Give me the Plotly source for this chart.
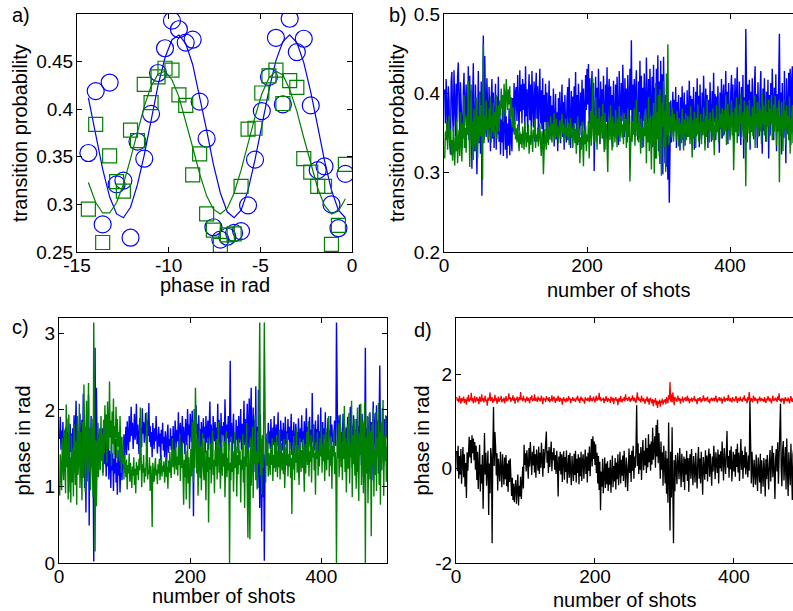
import plotly.graph_objects as go

# ---------------- panel a: fringe scan ----------------
phase_a = [-14.38, -13.98, -13.60, -13.22, -12.84, -12.47, -12.08, -11.70, -11.33, -10.96,
           -10.58, -10.20, -9.82, -9.44, -9.07, -8.69, -8.31, -7.93, -7.56, -7.18,
           -6.80, -6.43, -6.05, -5.67, -5.29, -4.92, -4.53, -4.15, -3.77, -3.40,
           -3.01, -2.63, -2.25, -1.87, -1.50, -1.12, -0.74, -0.36]
prob_blue = [0.354, 0.419, 0.279, 0.428, 0.321, 0.325, 0.265, 0.366, 0.348, 0.395,
             0.438, 0.464, 0.493, 0.484, 0.470, 0.473, 0.408, 0.369, 0.276, 0.263,
             0.266, 0.270, 0.272, 0.299, 0.347, 0.398, 0.434, 0.475, 0.405, 0.495,
             0.460, 0.474, 0.404, 0.336, 0.340, 0.300, 0.275, 0.332]
prob_green = [0.295, 0.384, 0.260, 0.351, 0.324, 0.314, 0.378, 0.367, 0.426, 0.407,
              0.434, 0.443, 0.441, 0.415, 0.404, 0.331, 0.353, 0.290, 0.273, 0.257,
              0.268, 0.269, 0.319, 0.379, 0.380, 0.417, 0.435, 0.441, 0.406, 0.430,
              0.423, 0.348, 0.334, 0.319, 0.319, 0.258, 0.278, 0.342]
fit_blue = [0.412, 0.373, 0.337, 0.308, 0.290, 0.286, 0.297, 0.321, 0.352, 0.388,
            0.425, 0.454, 0.473, 0.478, 0.469, 0.447, 0.414, 0.378, 0.342, 0.312,
            0.292, 0.286, 0.294, 0.315, 0.347, 0.382, 0.420, 0.451, 0.471, 0.478,
            0.470, 0.449, 0.418, 0.382, 0.346, 0.315, 0.294, 0.286]
fit_green = [0.323, 0.302, 0.291, 0.291, 0.302, 0.321, 0.348, 0.377, 0.403, 0.424,
             0.437, 0.440, 0.431, 0.413, 0.388, 0.360, 0.332, 0.309, 0.295, 0.290,
             0.296, 0.312, 0.336, 0.364, 0.392, 0.416, 0.433, 0.440, 0.436, 0.421,
             0.398, 0.370, 0.342, 0.317, 0.299, 0.290, 0.293, 0.306]

# ---------------- panels b-d: shot-to-shot records ----------------
shots = list(range(1, 501))

prob_shot_blue = [
    0.405, 0.362, 0.418, 0.381, 0.343, 0.409, 0.392, 0.338, 0.323, 0.415,
    0.427, 0.371, 0.352, 0.429, 0.398, 0.346, 0.412, 0.364, 0.421, 0.439,
    0.388, 0.351, 0.414, 0.372, 0.336, 0.331, 0.402, 0.426, 0.359, 0.378,
    0.411, 0.347, 0.367, 0.434, 0.341, 0.422, 0.356, 0.404, 0.305, 0.391,
    0.438, 0.349, 0.327, 0.411, 0.372, 0.298, 0.358, 0.428, 0.337, 0.402,
    0.324, 0.415, 0.271, 0.363, 0.473, 0.341, 0.447, 0.382, 0.345, 0.419,
    0.362, 0.338, 0.408, 0.351, 0.327, 0.394, 0.418, 0.343, 0.401, 0.331,
    0.374, 0.412, 0.329, 0.396, 0.348, 0.421, 0.339, 0.386, 0.323, 0.367,
    0.338, 0.392, 0.321, 0.357, 0.404, 0.329, 0.371, 0.318, 0.362, 0.334,
    0.381, 0.322, 0.368, 0.345, 0.327, 0.394, 0.352, 0.413, 0.361, 0.402,
    0.408, 0.365, 0.423, 0.384, 0.352, 0.429, 0.377, 0.411, 0.362, 0.418,
    0.379, 0.412, 0.356, 0.434, 0.371, 0.405, 0.348, 0.398, 0.424, 0.366,
    0.411, 0.358, 0.428, 0.382, 0.357, 0.415, 0.339, 0.403, 0.426, 0.368,
    0.409, 0.351, 0.389, 0.431, 0.362, 0.404, 0.355, 0.419, 0.336, 0.398,
    0.364, 0.412, 0.351, 0.401, 0.338, 0.386, 0.416, 0.347, 0.397, 0.341,
    0.385, 0.348, 0.406, 0.333, 0.381, 0.399, 0.342, 0.376, 0.327, 0.394,
    0.352, 0.402, 0.337, 0.384, 0.411, 0.345, 0.389, 0.329, 0.398, 0.356,
    0.338, 0.392, 0.408, 0.349, 0.419, 0.366, 0.331, 0.403, 0.354, 0.396,
    0.343, 0.409, 0.362, 0.427, 0.351, 0.398, 0.335, 0.412, 0.368, 0.347,
    0.401, 0.359, 0.417, 0.341, 0.406, 0.372, 0.348, 0.423, 0.379, 0.431,
    0.386, 0.437, 0.361, 0.419, 0.344, 0.402, 0.428, 0.357, 0.413, 0.302,
    0.392, 0.421, 0.348, 0.407, 0.359, 0.431, 0.375, 0.336, 0.415, 0.362,
    0.405, 0.343, 0.422, 0.378, 0.329, 0.411, 0.364, 0.433, 0.341, 0.401,
    0.418, 0.355, 0.409, 0.347, 0.398, 0.332, 0.416, 0.371, 0.344, 0.411,
    0.361, 0.421, 0.383, 0.335, 0.428, 0.372, 0.349, 0.413, 0.365, 0.436,
    0.382, 0.345, 0.419, 0.367, 0.406, 0.338, 0.423, 0.374, 0.356, 0.431,
    0.379, 0.467, 0.352, 0.411, 0.363, 0.418, 0.345, 0.405, 0.429, 0.362,
    0.341, 0.415, 0.376, 0.441, 0.358, 0.422, 0.331, 0.407, 0.365, 0.425,
    0.381, 0.349, 0.445, 0.372, 0.339, 0.418, 0.358, 0.431, 0.376, 0.344,
    0.421, 0.332, 0.436, 0.364, 0.407, 0.318, 0.431, 0.352, 0.448, 0.327,
    0.415, 0.311, 0.441, 0.342, 0.424, 0.298, 0.446, 0.329, 0.312, 0.398,
    0.307, 0.365, 0.291, 0.347, 0.262, 0.325, 0.391, 0.338, 0.372, 0.402,
    0.346, 0.392, 0.357, 0.408, 0.331, 0.389, 0.349, 0.398, 0.362, 0.328,
    0.395, 0.354, 0.409, 0.341, 0.382, 0.401, 0.334, 0.386, 0.352, 0.404,
    0.345, 0.391, 0.416, 0.356, 0.397, 0.338, 0.393, 0.359, 0.408, 0.329,
    0.387, 0.402, 0.346, 0.419, 0.358, 0.397, 0.332, 0.411, 0.363, 0.342,
    0.401, 0.355, 0.422, 0.368, 0.337, 0.406, 0.359, 0.398, 0.331, 0.392,
    0.351, 0.414, 0.371, 0.339, 0.403, 0.356, 0.426, 0.364, 0.399, 0.341,
    0.396, 0.352, 0.409, 0.368, 0.325, 0.401, 0.355, 0.418, 0.343, 0.393,
    0.411, 0.348, 0.397, 0.428, 0.357, 0.402, 0.336, 0.413, 0.366, 0.345,
    0.401, 0.423, 0.362, 0.411, 0.341, 0.397, 0.419, 0.353, 0.406, 0.433,
    0.368, 0.346, 0.415, 0.379, 0.335, 0.408, 0.359, 0.423, 0.318, 0.395,
    0.352, 0.481, 0.371, 0.338, 0.411, 0.362, 0.417, 0.329, 0.402, 0.351,
    0.419, 0.366, 0.342, 0.407, 0.434, 0.358, 0.399, 0.331, 0.414, 0.365,
    0.346, 0.403, 0.428, 0.362, 0.324, 0.406, 0.353, 0.419, 0.373, 0.339,
    0.402, 0.358, 0.417, 0.318, 0.398, 0.347, 0.413, 0.362, 0.431, 0.371,
    0.341, 0.407, 0.363, 0.424, 0.327, 0.399, 0.352, 0.416, 0.475, 0.359,
    0.401, 0.323, 0.413, 0.362, 0.344, 0.428, 0.371, 0.312, 0.419, 0.379,
    0.348, 0.426, 0.371, 0.431, 0.335, 0.412, 0.434, 0.357, 0.421, 0.368,
    0.409, 0.351, 0.424, 0.374, 0.358, 0.416, 0.345, 0.407, 0.363, 0.421,
]

prob_shot_green = [
    0.318, 0.352, 0.341, 0.364, 0.329, 0.347, 0.372, 0.336, 0.355, 0.322,
    0.341, 0.315, 0.358, 0.332, 0.309, 0.346, 0.327, 0.368, 0.312, 0.339,
    0.354, 0.321, 0.376, 0.338, 0.314, 0.362, 0.343, 0.398, 0.331, 0.357,
    0.325, 0.372, 0.348, 0.416, 0.336, 0.307, 0.359, 0.411, 0.334, 0.364,
    0.316, 0.381, 0.342, 0.327, 0.395, 0.353, 0.318, 0.371, 0.339, 0.402,
    0.346, 0.385, 0.331, 0.291, 0.462, 0.337, 0.372, 0.348, 0.391, 0.354,
    0.367, 0.342, 0.381, 0.356, 0.396, 0.338, 0.372, 0.351, 0.388, 0.345,
    0.376, 0.359, 0.398, 0.342, 0.367, 0.385, 0.352, 0.391, 0.372, 0.406,
    0.381, 0.398, 0.364, 0.412, 0.387, 0.371, 0.418, 0.393, 0.379, 0.405,
    0.386, 0.409, 0.368, 0.395, 0.374, 0.357, 0.382, 0.348, 0.366, 0.342,
    0.356, 0.338, 0.361, 0.343, 0.327, 0.352, 0.336, 0.349, 0.331, 0.358,
    0.342, 0.329, 0.364, 0.345, 0.332, 0.351, 0.338, 0.361, 0.324, 0.347,
    0.335, 0.359, 0.341, 0.326, 0.354, 0.343, 0.368, 0.331, 0.348, 0.339,
    0.357, 0.333, 0.346, 0.362, 0.338, 0.321, 0.352, 0.343, 0.298, 0.337,
    0.355, 0.341, 0.329, 0.364, 0.346, 0.335, 0.358, 0.342, 0.371, 0.349,
    0.338, 0.362, 0.347, 0.375, 0.341, 0.356, 0.368, 0.344, 0.359, 0.337,
    0.352, 0.366, 0.343, 0.358, 0.374, 0.349, 0.361, 0.339, 0.354, 0.368,
    0.346, 0.357, 0.341, 0.363, 0.335, 0.352, 0.369, 0.344, 0.358, 0.331,
    0.348, 0.362, 0.337, 0.355, 0.324, 0.349, 0.371, 0.338, 0.356, 0.312,
    0.345, 0.329, 0.364, 0.341, 0.308, 0.353, 0.336, 0.359, 0.327, 0.348,
    0.339, 0.365, 0.318, 0.352, 0.378, 0.334, 0.361, 0.419, 0.346, 0.372,
    0.338, 0.395, 0.354, 0.329, 0.368, 0.347, 0.382, 0.336, 0.359, 0.371,
    0.343, 0.387, 0.352, 0.326, 0.375, 0.348, 0.362, 0.335, 0.301, 0.356,
    0.369, 0.341, 0.385, 0.352, 0.328, 0.371, 0.346, 0.363, 0.338, 0.379,
    0.355, 0.332, 0.368, 0.347, 0.384, 0.339, 0.358, 0.372, 0.344, 0.361,
    0.336, 0.375, 0.352, 0.367, 0.331, 0.356, 0.381, 0.345, 0.362, 0.289,
    0.353, 0.372, 0.339, 0.365, 0.348, 0.381, 0.334, 0.359, 0.392, 0.346,
    0.363, 0.338, 0.375, 0.351, 0.324, 0.368, 0.344, 0.357, 0.332, 0.371,
    0.346, 0.381, 0.312, 0.364, 0.338, 0.395, 0.327, 0.369, 0.351, 0.304,
    0.372, 0.335, 0.388, 0.299, 0.361, 0.413, 0.318, 0.376, 0.342, 0.398,
    0.321, 0.405, 0.343, 0.296, 0.388, 0.358, 0.416, 0.332, 0.378, 0.301,
    0.425, 0.347, 0.462, 0.335, 0.389, 0.352, 0.371, 0.344, 0.382, 0.361,
    0.339, 0.374, 0.352, 0.366, 0.341, 0.378, 0.355, 0.333, 0.369, 0.348,
    0.362, 0.337, 0.381, 0.354, 0.328, 0.367, 0.349, 0.375, 0.341, 0.358,
    0.372, 0.345, 0.361, 0.336, 0.384, 0.352, 0.319, 0.366, 0.343, 0.377,
    0.355, 0.331, 0.369, 0.348, 0.386, 0.339, 0.362, 0.351, 0.374, 0.336,
    0.364, 0.347, 0.382, 0.358, 0.328, 0.371, 0.345, 0.393, 0.354, 0.367,
    0.338, 0.376, 0.352, 0.365, 0.341, 0.381, 0.356, 0.322, 0.369, 0.347,
    0.385, 0.351, 0.366, 0.338, 0.392, 0.357, 0.374, 0.343, 0.381, 0.362,
    0.346, 0.379, 0.352, 0.398, 0.335, 0.368, 0.387, 0.355, 0.372, 0.341,
    0.364, 0.391, 0.347, 0.376, 0.303, 0.359, 0.382, 0.351, 0.395, 0.337,
    0.372, 0.348, 0.386, 0.361, 0.399, 0.345, 0.368, 0.376, 0.342, 0.391,
    0.357, 0.283, 0.374, 0.385, 0.349, 0.366, 0.392, 0.338, 0.371, 0.352,
    0.383, 0.346, 0.369, 0.397, 0.331, 0.375, 0.358, 0.389, 0.344, 0.367,
    0.393, 0.352, 0.378, 0.336, 0.401, 0.361, 0.384, 0.347, 0.372, 0.395,
    0.339, 0.376, 0.358, 0.392, 0.345, 0.381, 0.363, 0.398, 0.341, 0.374,
    0.386, 0.352, 0.397, 0.368, 0.334, 0.382, 0.355, 0.391, 0.288, 0.371,
    0.346, 0.389, 0.362, 0.327, 0.393, 0.354, 0.378, 0.335, 0.385, 0.358,
    0.372, 0.341, 0.396, 0.324, 0.368, 0.351, 0.385, 0.337, 0.379, 0.305,
    0.362, 0.388, 0.343, 0.374, 0.357, 0.392, 0.336, 0.369, 0.351, 0.383,
]

phase_shot_blue = [
    1.62, 1.91, 1.48, 1.73, 1.55, 1.84, 1.28, 1.66, 1.41, 1.77,
    1.52, 1.89, 1.34, 1.71, 0.92, 1.58, 1.82, 1.45, 1.69, 1.23,
    1.76, 1.51, 1.93, 1.38, 1.64, 2.12, 1.47, 1.81, 1.29, 1.72,
    1.56, 1.95, 1.33, 1.68, 1.87, 1.42, 2.21, 1.61, 0.98, 1.78,
    0.66, 1.53, 1.86, 1.37, 2.19, 0.49, 1.71, 1.44, 1.92, 1.25,
    1.63, 1.18, 0.02, 1.47, 2.81, 1.12, 2.29, 1.58, 1.83, 1.36,
    1.69, 1.45, 1.22, 1.61, 1.34, 1.76, 1.18, 1.52, 1.29, 1.67,
    1.41, 1.13, 1.58, 1.26, 1.72, 1.09, 1.47, 1.35, 0.98, 1.54,
    1.21, 1.43, 0.94, 1.36, 1.17, 1.62, 1.05, 1.31, 0.89, 1.48,
    1.14, 1.39, 0.92, 1.27, 1.56, 1.08, 1.44, 1.23, 1.68, 1.35,
    1.52, 1.78, 1.41, 1.85, 1.63, 1.47, 1.92, 1.58, 1.71, 2.04,
    1.66, 1.83, 1.49, 1.76, 1.95, 1.61, 1.72, 2.08, 1.55, 1.81,
    1.68, 1.42, 1.89, 1.63, 1.77, 1.51, 2.02, 1.69, 1.84, 1.57,
    1.73, 1.96, 1.62, 1.45, 1.87, 1.66, 2.09, 1.58, 1.79, 1.52,
    1.71, 1.38, 1.83, 1.64, 1.49, 1.76, 1.59, 1.92, 1.67, 1.43,
    1.61, 1.78, 1.52, 1.69, 1.34, 1.74, 1.56, 1.83, 1.47, 1.65,
    1.38, 1.72, 1.59, 1.26, 1.67, 1.81, 1.44, 1.62, 1.53, 1.76,
    1.48, 1.66, 1.35, 1.79, 1.57, 1.43, 1.86, 1.62, 1.51, 1.74,
    1.59, 1.97, 1.46, 1.71, 1.83, 1.39, 1.65, 1.92, 1.56, 1.78,
    1.63, 1.42, 1.88, 1.69, 1.54, 2.01, 1.67, 1.81, 1.49, 1.95,
    1.73, 1.58, 1.99, 1.64, 0.61, 1.86, 1.52, 1.77, 2.06, 1.68,
    1.82, 1.47, 1.93, 1.61, 1.75, 1.39, 1.84, 1.66, 1.51, 1.89,
    1.63, 1.78, 1.44, 1.92, 1.57, 1.71, 1.86, 1.48, 1.69, 2.11,
    1.54, 1.81, 1.65, 1.38, 1.92, 1.73, 1.59, 1.84, 1.46, 1.77,
    1.62, 2.08, 1.53, 1.87, 1.71, 1.43, 1.96, 1.58, 1.79, 1.67,
    1.84, 1.52, 2.14, 1.69, 1.38, 1.81, 1.63, 1.92, 1.47, 1.76,
    2.64, 1.58, 1.83, 1.41, 1.72, 1.95, 1.56, 1.68, 1.34, 1.87,
    1.61, 1.79, 1.43, 1.92, 1.57, 1.66, 2.01, 1.48, 1.82, 1.35,
    1.73, 2.12, 1.54, 1.88, 1.42, 1.69, 2.08, 1.37, 1.81, 2.15,
    1.51, 1.95, 2.29, 1.28, 1.74, 2.03, 1.19, 1.87, 1.43, 2.31,
    1.12, 1.78, 0.98, 2.26, 1.39, 0.72, 1.94, 1.08, 0.41, 1.63,
    0.86, 1.42, 0.03, 1.21, 1.58, 1.34, 1.69, 1.47, 1.83, 1.56,
    1.72, 1.49, 1.88, 1.61, 1.35, 1.77, 1.54, 1.92, 1.43, 1.68,
    1.81, 1.52, 1.66, 1.97, 1.45, 1.73, 1.38, 1.86, 1.59, 1.74,
    1.47, 1.83, 1.62, 1.36, 1.91, 1.55, 1.72, 1.44, 1.88, 1.61,
    1.78, 1.49, 1.67, 1.95, 1.41, 1.73, 1.58, 1.84, 1.33, 1.69,
    1.82, 1.54, 1.71, 1.46, 1.89, 1.63, 1.37, 1.76, 1.58, 1.93,
    1.49, 1.72, 1.61, 1.85, 1.38, 1.67, 2.02, 1.53, 1.78, 1.44,
    1.66, 1.91, 1.52, 1.74, 1.39, 2.22, 1.58, 1.81, 1.47, 1.69,
    1.86, 1.43, 1.75, 1.61, 1.94, 1.35, 1.72, 1.57, 2.03, 1.49,
    1.68, 1.84, 1.41, 1.76, 1.62, 1.97, 1.38, 1.71, 1.55, 1.89,
    1.46, 1.73, 1.64, 1.92, 1.37, 1.81, 1.58, 1.69, 1.45, 1.86,
    1.62, 1.53, 3.14, 1.74, 1.41, 1.67, 1.93, 1.52, 1.78, 1.36,
    1.71, 1.58, 1.95, 1.44, 1.82, 1.63, 1.29, 1.77, 1.55, 1.91,
    1.38, 1.72, 1.59, 2.04, 1.46, 1.81, 1.24, 1.68, 1.93, 1.51,
    1.74, 1.35, 1.88, 1.62, 1.19, 1.79, 1.56, 2.07, 1.43, 1.71,
    1.28, 1.95, 1.64, 1.13, 1.83, 1.52, 2.81, 1.37, 1.76, 1.58,
    1.91, 1.22, 1.69, 1.97, 1.41, 1.84, 1.08, 1.73, 2.11, 1.49,
    1.65, 1.96, 1.32, 2.06, 1.54, 1.86, 1.17, 2.09, 2.58, 1.61,
    1.79, 1.43, 2.02, 1.68, 1.27, 1.88, 1.55, 1.74, 1.92, 1.63,
]

phase_shot_green = [
    0.88, 1.42, 1.17, 0.95, 1.63, 1.21, 1.08, 1.74, 1.33, 0.91,
    2.07, 1.25, 1.56, 0.83, 1.94, 1.12, 1.38, 0.79, 1.67, 1.05,
    1.49, 0.87, 1.81, 1.28, 1.02, 1.59, 0.76, 1.92, 1.15, 1.37,
    2.08, 0.98, 1.71, 1.26, 0.82, 1.84, 1.11, 2.33, 1.44, 0.93,
    1.68, 2.12, 1.06, 1.53, 2.35, 1.19, 1.77, 0.95, 1.46, 1.88,
    1.24, 0.86, 3.14, 1.38, 0.15, 1.61, 0.74, 1.29, 1.83, 1.12,
    1.47, 1.76, 1.21, 1.92, 1.35, 1.68, 1.14, 1.87, 1.43, 2.06,
    1.58, 1.94, 1.31, 2.11, 1.72, 1.49, 2.37, 1.64, 1.86, 1.27,
    1.98, 1.55, 2.15, 1.42, 1.79, 1.63, 2.04, 1.37, 1.88, 1.52,
    1.71, 1.33, 1.92, 1.46, 1.18, 1.65, 1.29, 1.53, 1.09, 1.41,
    1.24, 1.12, 1.35, 0.96, 1.28, 1.17, 1.43, 1.06, 1.31, 1.19,
    0.98, 1.26, 1.14, 1.38, 1.02, 1.23, 0.91, 1.32, 1.15, 1.27,
    1.08, 1.36, 1.21, 2.03, 1.12, 0.99, 1.29, 1.18, 1.41, 1.05,
    1.24, 1.13, 1.34, 1.97, 1.09, 1.22, 1.16, 1.38, 0.94, 1.27,
    1.11, 0.47, 1.31, 1.19, 1.06, 1.25, 1.37, 1.14, 1.22, 1.03,
    1.29, 1.17, 1.36, 1.08, 1.24, 1.41, 1.13, 1.27, 1.19, 1.33,
    1.05, 1.21, 1.38, 1.12, 1.26, 0.97, 1.34, 1.18, 1.45, 1.23,
    1.11, 1.37, 1.63, 1.25, 1.48, 1.16, 1.31, 1.57, 1.22, 1.39,
    1.14, 1.52, 1.28, 1.69, 1.07, 1.43, 1.24, 1.58, 1.19, 0.76,
    1.35, 1.12, 1.47, 0.83, 1.29, 1.56, 1.04, 1.38, 0.71, 1.26,
    1.49, 1.13, 1.84, 1.32, 1.05, 2.01, 1.24, 2.29, 1.41, 1.17,
    1.62, 0.88, 1.36, 1.74, 1.11, 1.52, 0.95, 1.43, 1.69, 1.27,
    1.08, 1.58, 1.33, 0.82, 1.47, 1.19, 1.64, 0.53, 1.38, 1.22,
    1.56, 1.04, 1.41, 1.73, 1.15, 1.35, 0.91, 1.48, 1.26, 1.62,
    1.09, 1.37, 1.84, 1.18, 1.51, 0.97, 1.32, 1.68, 1.14, 1.43,
    1.26, 1.59, 0.86, 1.44, 1.72, 1.12, 1.37, 1.21, 1.56, 0.00,
    1.31, 1.08, 1.65, 1.19, 1.46, 0.93, 1.38, 1.71, 1.24, 1.52,
    0.87, 1.41, 1.16, 1.63, 1.28, 1.47, 0.79, 1.35, 1.22, 1.68,
    1.05, 1.39, 0.72, 1.58, 1.26, 1.83, 0.94, 0.33, 1.49, 1.12,
    0.31, 1.64, 1.01, 1.37, 1.78, 0.85, 1.52, 1.29, 1.93, 1.08,
    1.46, 0.96, 1.72, 1.31, 1.98, 3.14, 1.15, 1.54, 0.89, 1.67,
    1.24, 1.82, 3.14, 1.39, 1.05, 1.58, 1.27, 1.71, 1.13, 1.44,
    1.36, 1.15, 1.52, 1.28, 1.63, 1.07, 1.41, 1.24, 1.58, 1.19,
    1.33, 1.67, 1.12, 1.46, 1.25, 1.74, 1.09, 1.38, 1.57, 1.21,
    1.44, 1.16, 1.62, 0.98, 1.35, 1.51, 1.27, 1.69, 1.13, 1.42,
    1.26, 1.58, 1.11, 1.37, 0.64, 1.49, 1.22, 1.66, 1.08, 1.43,
    1.31, 1.77, 1.18, 1.54, 1.27, 1.02, 1.63, 1.36, 1.19, 1.48,
    1.24, 1.61, 1.39, 0.93, 1.55, 1.17, 1.42, 1.71, 1.28, 1.85,
    1.13, 1.46, 1.32, 1.67, 1.05, 1.52, 1.38, 1.79, 1.21, 1.44,
    0.89, 1.58, 1.36, 1.71, 1.14, 1.47, 1.26, 1.63, 1.39, 1.82,
    1.18, 1.54, 1.33, 1.68, 1.07, 1.42, 1.76, 1.21, 1.59, 1.35,
    1.92, 1.13, 1.48, 1.27, 1.66, 0.97, 1.53, 1.39, 1.74, 1.16,
    1.45, 1.28, 0.00, 1.61, 1.37, 1.83, 1.12, 1.49, 1.94, 1.25,
    1.57, 1.08, 1.72, 1.36, 2.05, 1.19, 1.63, 0.92, 1.47, 1.81,
    1.23, 1.96, 1.04, 1.55, 1.38, 2.12, 0.86, 1.67, 1.29, 1.88,
    1.14, 1.73, 0.97, 1.58, 2.03, 1.26, 0.81, 1.69, 1.41, 2.08,
    1.02, 1.53, 1.86, 0.91, 1.47, 2.11, 0.00, 1.64, 1.17, 1.92,
    0.78, 1.56, 1.95, 1.09, 1.72, 0.35, 1.81, 1.28, 2.02, 0.87,
    1.49, 1.15, 1.97, 0.94, 1.63, 1.38, 2.09, 1.02, 1.71, 0.76,
    1.84, 1.21, 1.58, 2.13, 0.88, 1.66, 1.33, 1.93, 1.06, 1.52,
]

phase_sum = [
    1.52, 1.44, 1.49, 1.41, 1.55, 1.46, 1.38, 1.50, 1.43, 1.47,
    1.53, 1.40, 1.48, 1.45, 1.36, 1.51, 1.44, 1.57, 1.42, 1.49,
    1.46, 1.61, 1.43, 1.50, 1.39, 1.48, 1.54, 1.41, 1.47, 1.52,
    1.44, 1.49, 1.37, 1.53, 1.46, 1.42, 1.58, 1.45, 1.50, 1.41,
    1.48, 1.55, 1.43, 1.47, 1.34, 1.51, 1.45, 1.49, 1.62, 1.44,
    1.46, 1.52, 1.40, 1.48, 1.43, 1.57, 1.45, 1.50, 1.38, 1.47,
    1.53, 1.42, 1.49, 1.46, 1.55, 1.41, 1.48, 1.44, 1.51, 1.39,
    1.47, 1.54, 1.43, 1.49, 1.45, 1.60, 1.48, 1.52, 1.42, 1.50,
    1.46, 1.56, 1.44, 1.51, 1.38, 1.49, 1.47, 1.53, 1.41, 1.48,
    1.52, 1.45, 1.63, 1.47, 1.50, 1.43, 1.55, 1.46, 1.49, 1.41,
    1.48, 1.53, 1.44, 1.50, 1.46, 1.39, 1.52, 1.47, 1.56, 1.43,
    1.49, 1.45, 1.58, 1.44, 1.51, 1.47, 1.42, 1.53, 1.46, 1.50,
    1.43, 1.48, 1.55, 1.45, 1.37, 1.51, 1.46, 1.49, 1.42, 1.54,
    1.47, 1.50, 1.44, 1.52, 1.41, 1.48, 1.45, 1.56, 1.43, 1.49,
    1.53, 1.46, 1.40, 1.50, 1.47, 1.44, 1.55, 1.48, 1.42, 1.51,
    1.45, 1.49, 1.36, 1.47, 1.52, 1.44, 1.48, 1.41, 1.50, 1.46,
    1.43, 1.54, 1.47, 1.50, 1.39, 1.48, 1.45, 1.52, 1.44, 1.49,
    1.46, 1.42, 1.51, 1.47, 1.55, 1.44, 1.49, 1.40, 1.48, 1.53,
    1.45, 1.50, 1.43, 1.47, 1.38, 1.52, 1.46, 1.49, 1.44, 1.51,
    1.47, 1.42, 1.56, 1.45, 1.50, 1.43, 1.48, 1.53, 1.46, 1.41,
    1.49, 1.55, 1.44, 1.50, 1.47, 1.61, 1.45, 1.52, 1.43, 1.48,
    1.46, 1.51, 1.39, 1.49, 1.44, 1.54, 1.47, 1.42, 1.50, 1.45,
    1.48, 1.40, 1.53, 1.46, 1.43, 1.51, 1.37, 1.49, 1.45, 1.52,
    1.44, 1.48, 1.35, 1.47, 1.50, 1.42, 1.55, 1.46, 1.41, 1.49,
    1.45, 1.52, 1.43, 1.58, 1.47, 1.50, 1.44, 1.48, 1.53, 1.46,
    1.42, 1.50, 1.45, 1.56, 1.48, 1.43, 1.51, 1.47, 1.40, 1.49,
    1.62, 1.46, 1.52, 1.44, 1.49, 1.41, 1.55, 1.47, 1.43, 1.50,
    1.46, 1.38, 1.48, 1.45, 1.53, 1.42, 1.49, 1.36, 1.47, 1.51,
    1.44, 1.39, 1.48, 1.33, 1.46, 1.41, 1.50, 1.35, 1.45, 1.29,
    1.43, 1.38, 1.47, 1.32, 1.44, 1.40, 1.49, 1.36, 1.45, 1.42,
    1.48, 1.37, 1.52, 1.44, 1.39, 1.56, 1.47, 1.84, 1.43, 1.58,
    1.41, 1.62, 1.46, 1.35, 1.53, 1.45, 1.49, 1.42, 1.55, 1.47,
    1.44, 1.50, 1.38, 1.48, 1.45, 1.53, 1.41, 1.49, 1.46, 1.52,
    1.43, 1.47, 1.55, 1.44, 1.50, 1.39, 1.48, 1.45, 1.51, 1.42,
    1.49, 1.46, 1.54, 1.43, 1.48, 1.45, 1.37, 1.50, 1.47, 1.44,
    1.52, 1.46, 1.41, 1.49, 1.44, 1.56, 1.47, 1.43, 1.50, 1.45,
    1.48, 1.53, 1.42, 1.47, 1.39, 1.49, 1.45, 1.51, 1.44, 1.46,
    1.50, 1.43, 1.48, 1.55, 1.45, 1.41, 1.49, 1.46, 1.52, 1.44,
    1.47, 1.51, 1.38, 1.48, 1.45, 1.53, 1.42, 1.49, 1.46, 1.50,
    1.44, 1.57, 1.47, 1.43, 1.50, 1.46, 1.41, 1.52, 1.45, 1.48,
    1.43, 1.49, 1.54, 1.46, 1.40, 1.50, 1.47, 1.44, 1.53, 1.45,
    1.48, 1.42, 1.51, 1.47, 1.56, 1.44, 1.49, 1.46, 1.39, 1.52,
    1.45, 1.63, 1.48, 1.43, 1.50, 1.46, 1.41, 1.55, 1.47, 1.44,
    1.51, 1.45, 1.48, 1.38, 1.49, 1.46, 1.53, 1.43, 1.47, 1.50,
    1.44, 1.48, 1.42, 1.52, 1.46, 1.40, 1.49, 1.45, 1.54, 1.47,
    1.43, 1.50, 1.46, 1.39, 1.48, 1.55, 1.44, 1.49, 1.45, 1.51,
    1.47, 1.42, 1.53, 1.46, 1.60, 1.44, 1.48, 1.41, 1.50, 1.45,
    1.49, 1.37, 1.47, 1.52, 1.44, 1.48, 1.43, 1.51, 1.46, 1.39,
    1.48, 1.54, 1.45, 1.42, 1.50, 1.47, 1.58, 1.44, 1.49, 1.46,
    1.51, 1.43, 1.48, 1.45, 1.53, 1.41, 1.49, 1.46, 1.50, 1.44,
]

phase_diff = [
    0.38, -0.05, 0.49, -0.21, 0.27, -0.12, 0.42, -0.32, 0.15, 0.46,
    -0.18, 0.31, -0.38, 0.12, -0.62, 0.35, -0.04, 0.55, 0.68, 0.24,
    0.61, 0.12, 0.71, 0.33, 0.64, 0.18, 0.57, -0.02, 0.49, -0.24,
    0.36, -0.43, 0.22, 0.51, -0.48, 0.09, -0.31, 0.29, -0.85, 0.41,
    0.76, -0.12, 0.34, -0.36, 0.27, 0.38, -0.98, 0.11, -0.52, 0.44,
    0.25, -1.58, 0.39, 1.31, 0.06, 0.78, 0.48, -0.14, 0.33, -0.46,
    0.21, 0.02, -0.27, 0.36, -0.08, -0.39, 0.31, -0.18, -0.34, 0.24,
    -0.22, 0.29, -0.37, 0.11, -0.49, 0.18, -0.28, 0.22, -0.45, -0.58,
    -0.19, -0.66, -0.32, -0.71, -0.43, -0.24, -0.74, -0.47, -0.12, -0.78,
    -0.36, -0.59, -0.17, -0.64, -0.29, 0.04, -0.42, 0.51, 0.08, 0.33,
    -0.06, 0.39, 0.14, -0.21, 0.44, 0.05, 0.57, 0.19, -0.13, 0.36,
    0.07, 0.49, -0.08, 0.31, -0.19, 0.41, 0.12, -0.04, 0.47, -0.11,
    0.34, 0.02, 0.55, 0.16, -0.17, 0.42, 0.01, 0.29, 0.52, 0.79,
    0.13, 0.38, -0.09, 0.46, 0.04, 0.31, 0.58, -0.05, 0.35, 0.18,
    0.44, -0.02, 0.29, -0.11, 0.38, 0.07, -0.59, 0.26, -0.04, 0.36,
    -0.12, 0.31, -0.28, 0.21, 0.37, -0.23, 0.25, -0.07, 0.39, -0.31,
    0.18, 0.29, -0.19, 0.34, -0.06, -0.35, 0.27, -0.02, -0.26, 0.32,
    -0.13, 0.38, -0.29, 0.21, -0.09, 0.31, -0.33, 0.24, -0.16, 0.36,
    -0.26, 0.17, 0.31, -0.21, 0.22, 0.41, -0.11, 0.26, -0.29, 0.34,
    -0.04, 0.47, -0.16, 0.29, 0.63, 0.05, 0.69, 0.21, 0.58, 0.08,
    0.52, -0.09, 0.34, -0.31, 0.27, -0.45, 0.15, -0.88, -0.06, -0.38,
    0.21, -0.52, -0.18, 0.24, -0.41, 0.11, -0.33, 0.16, -0.47, 0.02,
    -0.34, 0.19, -0.51, -0.14, 0.28, -0.39, 0.06, -0.27, 0.23, -0.44,
    0.13, -0.22, 0.31, -0.35, 0.02, 0.36, -0.31, 0.19, -0.15, 0.28,
    -0.26, 0.38, -0.02, -0.39, 0.24, 0.04, -0.47, 0.21, 0.43, -0.09,
    0.29, -0.28, 0.38, -0.04, 0.49, -0.21, 0.26, 0.02, 0.41, 1.35,
    0.06, 0.54, -0.11, 0.33, -0.02, 0.46, -0.24, 0.31, 0.61, -0.03,
    0.38, 0.07, 0.65, -0.09, 0.44, 0.03, 0.73, 0.14, 0.52, -0.04,
    0.58, 0.09, 0.87, 0.19, 0.47, 0.69, 0.02, 0.93, 0.26, 1.04,
    0.12, 0.76, 0.29, -0.21, 0.58, -0.02, 0.35, -0.36, 0.49, -0.12,
    -0.31, 0.38, -0.53, 0.22, -0.72, 0.98, -0.04, -1.31, 0.36, -0.61,
    0.88, -0.37, -1.58, 0.18, -0.48, 0.29, -0.09, -0.33, 0.34, -0.04,
    -0.22, 0.44, 0.02, -0.39, 0.32, -0.08, -0.28, 0.26, -0.45, 0.21,
    -0.12, 0.38, -0.26, 0.23, -0.49, 0.15, 0.31, -0.21, 0.42, -0.05,
    -0.35, 0.27, -0.09, -0.29, 0.34, 0.03, -0.42, 0.19, 0.46, -0.21,
    0.22, -0.31, 0.36, -0.05, -0.55, 0.25, 0.01, -0.23, 0.39, -0.11,
    0.28, -0.27, 0.21, 0.43, -0.17, 0.32, -0.02, -0.36, 0.26, -0.06,
    0.49, 0.04, -0.22, 0.35, 0.11, -0.09, 0.41, -0.31, 0.30, 0.01,
    0.37, -0.06, 0.58, 0.08, -0.25, 0.44, 0.05, -0.11, 0.32, 0.80,
    0.02, 0.27, -0.19, 0.39, -0.01, 0.48, -0.27, 0.24, 0.36, -0.06,
    0.30, -0.17, 0.42, 0.04, 0.53, -0.08, 0.34, -0.26, 0.25, 0.63,
    -0.02, 0.38, -0.21, 0.29, 0.02, 0.47, -0.12, 0.35, 0.06, -0.18,
    0.28, -0.04, 1.45, 0.22, -0.31, 0.36, -0.01, -0.39, 0.19, -0.08,
    -0.34, 0.30, 0.01, -0.47, 0.24, -0.06, -0.29, 0.32, -0.53, 0.18,
    -0.09, -0.38, 0.23, -0.02, -0.59, 0.20, -0.22, 0.29, -0.06, -0.44,
    0.17, 0.40, -0.27, 0.26, 0.49, -0.18, 0.34, -0.01, -0.64, 0.22,
    0.42, -0.06, 0.56, -0.32, 0.33, 0.47, 1.38, 0.01, -0.37, 0.38,
    0.59, -0.25, 0.27, 0.46, -0.44, 0.64, -0.04, -0.58, 0.35, 0.05,
    -0.35, 0.53, -0.06, -0.66, 0.30, 0.42, -0.28, 0.67, -0.10, -0.48,
    0.25, 0.48, -0.69, 0.19, 0.56, -0.21, 0.32, 0.00, -0.39, 0.43,
]

BLUE = "#0000ff"
GREEN = "#008000"
RED = "#ff0000"
BLACK = "#000000"
FONT = "Liberation Sans, Arial, Helvetica, sans-serif"

W, H = 793, 611


def px_x(a, b):
    return [a / W, min(b / W, 1.0)]


def px_y(top, bottom):
    return [1 - bottom / H, 1 - top / H]


fig = go.Figure()

# panel a
fig.add_trace(go.Scatter(x=phase_a, y=prob_blue, mode="markers", xaxis="x", yaxis="y",
                         marker=dict(symbol="circle-open", size=17, color=BLUE,
                                     line=dict(width=1.2, color=BLUE))))
fig.add_trace(go.Scatter(x=phase_a, y=fit_blue, mode="lines", xaxis="x", yaxis="y",
                         line=dict(color=BLUE, width=1.2)))
fig.add_trace(go.Scatter(x=phase_a, y=prob_green, mode="markers", xaxis="x", yaxis="y",
                         marker=dict(symbol="square-open", size=14, color=GREEN,
                                     line=dict(width=1.2, color=GREEN))))
fig.add_trace(go.Scatter(x=phase_a, y=fit_green, mode="lines", xaxis="x", yaxis="y",
                         line=dict(color=GREEN, width=1.2)))

# panel b
fig.add_trace(go.Scatter(x=shots, y=prob_shot_blue, mode="lines", xaxis="x2", yaxis="y2",
                         line=dict(color=BLUE, width=1.4)))
fig.add_trace(go.Scatter(x=shots, y=prob_shot_green, mode="lines", xaxis="x2", yaxis="y2",
                         line=dict(color=GREEN, width=1.4)))

# panel c
fig.add_trace(go.Scatter(x=shots, y=phase_shot_blue, mode="lines", xaxis="x3", yaxis="y3",
                         line=dict(color=BLUE, width=1.4)))
fig.add_trace(go.Scatter(x=shots, y=phase_shot_green, mode="lines", xaxis="x3", yaxis="y3",
                         line=dict(color=GREEN, width=1.4)))

# panel d
fig.add_trace(go.Scatter(x=shots, y=phase_sum, mode="lines", xaxis="x4", yaxis="y4",
                         line=dict(color=RED, width=1.3)))
fig.add_trace(go.Scatter(x=shots, y=phase_diff, mode="lines", xaxis="x4", yaxis="y4",
                         line=dict(color=BLACK, width=1.3)))

tickfont = dict(family=FONT, size=19, color="black")


def axis(domain, rng, tickvals, anchor, mirror="ticks", standoff=0):
    return dict(domain=domain, range=rng, tickvals=tickvals,
                ticktext=[("-" + format(abs(v), "g")) if v < 0 else format(v, "g")
                          for v in tickvals],
                anchor=anchor, showgrid=False, zeroline=False, showline=True,
                linecolor="black", linewidth=1, ticks="inside", ticklen=5,
                tickwidth=1, tickcolor="black", mirror=mirror, tickfont=tickfont,
                ticklabelstandoff=standoff, automargin=False)


top_row = px_y(14, 252)
bot_row = px_y(318, 563)

fig.update_layout(
    width=W, height=H,
    margin=dict(l=0, r=0, t=0, b=0),
    paper_bgcolor="white", plot_bgcolor="white",
    showlegend=False,
    xaxis=axis(px_x(77, 352), [-15, 0], [-15, -10, -5, 0], "y", standoff=-4),
    yaxis=axis(top_row, [0.25, 0.5], [0.25, 0.3, 0.35, 0.4, 0.45], "x", standoff=-1),
    xaxis2=axis(px_x(444, 793), [0, 488], [0, 200, 400], "y2", standoff=-4),
    yaxis2=axis(top_row, [0.2, 0.5], [0.2, 0.3, 0.4, 0.5], "x2", mirror=False, standoff=-1),
    xaxis3=axis(px_x(59, 387), [0, 500], [0, 200, 400], "y3", standoff=-4),
    yaxis3=axis(bot_row, [0, 3.2], [0, 1, 2, 3], "x3", standoff=-1),
    xaxis4=axis(px_x(456, 793), [0, 485], [0, 200, 400], "y4", standoff=-4),
    yaxis4=axis(bot_row, [-2, 3.2], [-2, 0, 2], "x4", mirror=False, standoff=-1),
)

title_font = dict(family=FONT, size=20, color="black")

# axis titles (x: centre of each plot box, y: pixel row)
for text, xc, yc in [("phase in rad", 214.5, 285), ("number of shots", 618, 290),
                     ("number of shots", 223, 596), ("number of shots", 624, 600)]:
    fig.add_annotation(text=text, x=xc / W, y=1 - yc / H, xref="paper", yref="paper",
                       xanchor="center", yanchor="middle", showarrow=False, font=title_font)

for text, xc, yc in [("transition probability", 20, 133), ("transition probability", 397, 133),
                     ("phase in rad", 22, 440.5), ("phase in rad", 421, 440.5)]:
    fig.add_annotation(text=text, x=xc / W, y=1 - yc / H, xref="paper", yref="paper",
                       xanchor="center", yanchor="middle", textangle=-90,
                       showarrow=False, font=title_font)

for label, x0, y0 in [("a)", 10, 15), ("b)", 387, 15), ("c)", 10, 327), ("d)", 412, 330)]:
    fig.add_annotation(text=label, x=x0 / W, y=1 - y0 / H, xref="paper", yref="paper",
                       xanchor="left", yanchor="middle", showarrow=False, font=title_font)

fig.write_html("out.html")
